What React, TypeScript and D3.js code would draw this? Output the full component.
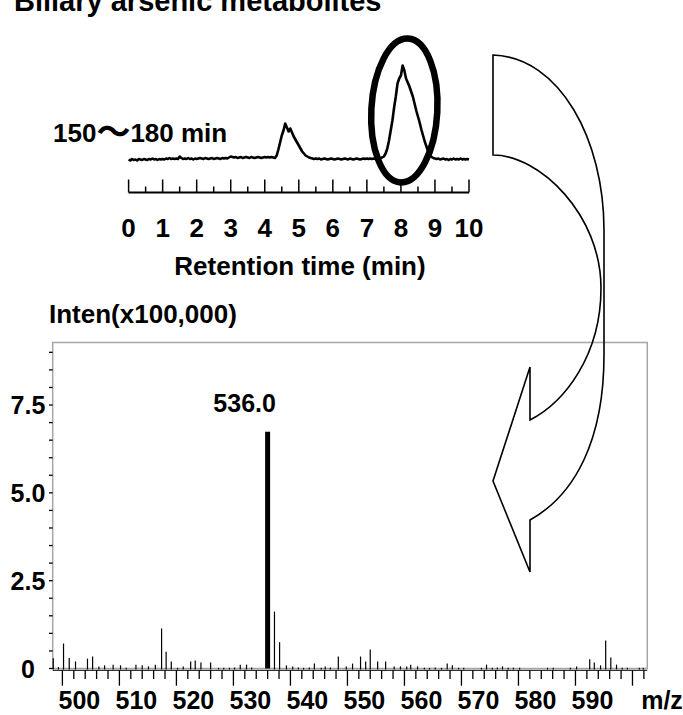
import React from 'react';
import * as d3 from 'd3';

// ---------- DATA ----------
const titleText = 'Biliary arsenic metabolites';
const chromRangeStart = '150';
const chromRangeSep = '～';
const chromRangeEnd = '180 min';
const chromAxisTitle = 'Retention time (min)';
const chromStep = 0.05; // minutes between samples
const chromIntensity = [
  1, 0, 1.5, 0.5, 1, 0, 1.5, 1, 0.5, 1.5, 1, 0.5, 1.5, 1, 2, 1, 1.5, 0.5, 1.5, 1, 1.5,
  1, 2, 1.5, 2.5, 1.5, 2, 1.5, 2, 1.5, 4, 2.5, 1.5, 2, 1.5, 2.5, 1.5, 2, 1, 2, 1.5,
  2, 2.5, 2, 1.5, 2.5, 2, 1.5, 2, 2.5, 1.5, 2, 2.5, 2, 1.5, 2.5, 2, 2.5, 2, 3, 4,
  3.5, 3, 3.5, 2.5, 3, 3.5, 2.5, 3, 3.5, 3, 2.5, 3.5, 3, 2.5, 3, 3.5, 3, 2.5, 3, 3.5,
  3, 3.5, 3, 3.5, 3, 2.5, 5, 11, 18, 25, 30, 37, 33, 29, 32, 28, 24, 21, 18, 15,
  12, 9, 7, 5, 4, 3, 2.5, 2, 1.5, 2, 1.5, 2, 1, 1.5, 2, 1.5, 1, 1.5, 2, 1.5,
  1, 1.5, 2, 1.5, 1, 1.5, 2, 1.5, 1, 2, 1.5, 1, 1.5, 2, 1.5, 1, 1.5, 2, 1.5, 2,
  1.5, 2, 1.5, 2, 1.5, 2.5, 2, 2.5, 3, 4, 7, 12, 20, 30, 40, 53, 64, 77, 82, 85,
  95, 90, 82, 78, 74, 69, 64, 57, 50, 44, 38, 31, 25, 19, 14, 9, 6, 3.5, 2.5, 2,
  1.5, 2, 1, 1.5, 2, 1, 1.5, 0.5, 1.5, 1, 2, 1, 1.5, 1, 2, 1, 1.5, 1, 1.5, 1,
];
const chromTicks = [0, 1, 2, 3, 4, 5, 6, 7, 8, 9, 10];

const specYLabel = 'Inten(x100,000)';
const specXUnit = 'm/z';
const basePeakLabel = '536.0';
const specMz = [
  498.4, 499.3, 500.2, 501.2, 502.3, 504.4, 505.3, 506.4, 507.4, 508.9,
  510.2, 511.2, 512.9, 514.0, 515.1, 516.3, 517.4, 518.2, 519.1, 520.2,
  521.2, 522.5, 523.3, 524.3, 526.0, 527.4, 528.3, 529.3, 530.2, 531.2,
  532.3, 533.2, 536.0, 537.2, 538.1, 539.3, 540.4, 541.4, 542.3, 543.3,
  544.2, 545.4, 546.1, 547.0, 548.4, 549.8, 550.9, 552.3, 553.2, 554.0,
  555.3, 556.7, 558.2, 559.3, 560.4, 561.1, 562.3, 563.5, 564.4, 565.4,
  566.5, 567.5, 568.4, 569.5, 570.4, 573.5, 574.4, 575.4, 576.3, 577.2,
  578.2, 579.1, 580.2, 585.1, 586.1, 589.1, 590.2, 592.5, 593.3, 594.4,
  595.3, 596.2, 597.2, 598.2, 599.1, 601.2, 601.9,
];
const specIntensity = [
  0.29, 0.04, 0.71, 0.30, 0.20, 0.28, 0.34, 0.06, 0.09, 0.11,
  0.09, 0.02, 0.11, 0.09, 0.06, 0.11, 1.14, 0.48, 0.20, 0.02,
  0.06, 0.20, 0.23, 0.17, 0.17, 0.02, 0.02, 0.02, 0.03, 0.11,
  0.11, 0.03, 6.74, 1.62, 0.75, 0.09, 0.06, 0.03, 0.02, 0.03,
  0.14, 0.02, 0.06, 0.03, 0.34, 0.06, 0.14, 0.34, 0.20, 0.54,
  0.20, 0.20, 0.06, 0.06, 0.06, 0.11, 0.06, 0.02, 0.02, 0.03,
  0.02, 0.14, 0.09, 0.02, 0.02, 0.02, 0.11, 0.02, 0.03, 0.06,
  0.02, 0.02, 0.02, 0.02, 0.02, 0.02, 0.06, 0.26, 0.17, 0.09,
  0.80, 0.31, 0.11, 0.02, 0.02, 0.02, 0.02,
];
const specXLabels = [500, 510, 520, 530, 540, 550, 560, 570, 580, 590];
const specYLabels = ['0', '2.5', '5.0', '7.5'];

// ---------- LAYOUT ----------
const W = 683;
const H = 715;
const FONT = '"Liberation Sans", Arial, Helvetica, sans-serif';

export default function App() {
  // chromatogram scales
  const cx = d3.scaleLinear().domain([0, 10]).range([128.6, 469]);
  const cy = d3.scaleLinear().domain([0, 100]).range([160.5, 60.5]);
  const chromLine = d3
    .line<number>()
    .x((_, i) => cx(i * chromStep))
    .y((d) => cy(d));
  const chromMinor = d3.range(0, 10.001, 0.5);
  const chromAxisY = 192.5;

  // spectrum scales
  const sx = d3.scaleLinear().domain([498.3, 602.6]).range([52.7, 647.3]);
  const sy = d3.scaleLinear().domain([0, 9.28]).range([668.5, 342.5]);
  const sxTicks = d3.range(500, 603, 2);
  const syTicks = d3.range(0, 9.001, 0.5);
  const baseIdx = specIntensity.indexOf(d3.max(specIntensity) as number);

  const arrowPath =
    'M493,55 C560,57 604,140 604,230 L604,355 C604,440 575,495 530,520 ' +
    'L530,572 L493,481 L530,367 L530,420 C565,402 601,355 601,288 ' +
    'C601,215 540,155 493,155 Z';

  const textStyle = { fontFamily: FONT, fontWeight: 700 as const, fill: '#000' };

  return (
    <svg
      width={W}
      height={H}
      viewBox={`0 0 ${W} ${H}`}
      style={{ position: 'absolute', left: 0, top: 0, background: '#fff' }}
    >
      <rect x={0} y={0} width={W} height={H} fill="#fff" />
      {/* title (cut off at top, as in the source) */}
      <text x={14} y={11} fontSize={29} {...textStyle}>
        {titleText}
      </text>

      {/* ---- chromatogram ---- */}
      <text x={53} y={141.5} fontSize={26} {...textStyle}>
        {chromRangeStart}
        <tspan fontFamily='"Noto Sans CJK JP", sans-serif' fontSize={34} dy={2}>
          {chromRangeSep}
        </tspan>
        <tspan dy={-2}>{chromRangeEnd}</tspan>
      </text>
      <path
        d={chromLine(chromIntensity) || ''}
        fill="none"
        stroke="#000"
        strokeWidth={2.6}
        strokeLinejoin="round"
      />
      <line x1={cx(0)} x2={cx(10)} y1={chromAxisY} y2={chromAxisY} stroke="#000" strokeWidth={2} />
      {chromMinor.map((t) => {
        const major = Math.abs(t - Math.round(t)) < 1e-6;
        return (
          <line
            key={t}
            x1={cx(t)}
            x2={cx(t)}
            y1={chromAxisY}
            y2={chromAxisY - (major ? 13 : 6)}
            stroke="#000"
            strokeWidth={1.5}
          />
        );
      })}
      {chromTicks.map((t) => (
        <text key={t} x={cx(t)} y={236.5} fontSize={26} textAnchor="middle" {...textStyle}>
          {t}
        </text>
      ))}
      <text x={300} y={275} fontSize={26} textAnchor="middle" {...textStyle}>
        {chromAxisTitle}
      </text>

      {/* highlight ellipse */}
      <ellipse
        cx={cx(8.1)}
        cy={cy(50)}
        rx={33}
        ry={72}
        fill="none"
        stroke="#000"
        strokeWidth={6.5}
        transform={`rotate(3 ${cx(8.1)} ${cy(50)})`}
      />

      {/* ---- mass spectrum ---- */}
      <text x={49} y={323} fontSize={26} {...textStyle}>
        {specYLabel}
      </text>
      <rect
        x={sx.range()[0]}
        y={sy.range()[1]}
        width={sx.range()[1] - sx.range()[0]}
        height={sy.range()[0] - sy.range()[1]}
        fill="none"
        stroke="#a6a6a6"
        strokeWidth={1.5}
      />
      <line x1={sx.range()[0]} x2={sx.range()[1]} y1={670.3} y2={670.3} stroke="#000" strokeWidth={1} />
      {syTicks.map((v) => (
        <line key={v} x1={49} x2={sx.range()[0]} y1={sy(v)} y2={sy(v)} stroke="#000" strokeWidth={1.3} />
      ))}
      {specYLabels.map((l) => (
        <text key={l} x={28} y={sy(+l) + 9} fontSize={25} textAnchor="middle" {...textStyle}>
          {l}
        </text>
      ))}
      {sxTicks.map((v) => (
        <line
          key={v}
          x1={sx(v)}
          x2={sx(v)}
          y1={670.3}
          y2={v % 10 === 0 ? 685.7 : 679}
          stroke="#000"
          strokeWidth={1.3}
        />
      ))}
      {specMz.map((m, i) =>
        i === baseIdx ? (
          <rect
            key={m}
            x={sx(m) - 2.5}
            width={5}
            y={sy(specIntensity[i])}
            height={sy(0) - sy(specIntensity[i])}
            fill="#000"
          />
        ) : (
          <line
            key={m}
            x1={sx(m)}
            x2={sx(m)}
            y1={sy(0) + 1}
            y2={sy(specIntensity[i])}
            stroke="#000"
            strokeWidth={1.2}
          />
        )
      )}
      <text x={sx(specMz[baseIdx]) - 23} y={412} fontSize={25} textAnchor="middle" {...textStyle}>
        {basePeakLabel}
      </text>
      {specXLabels.map((v) => (
        <text key={v} x={sx(v) + 17} y={709} fontSize={25} textAnchor="middle" {...textStyle}>
          {v}
        </text>
      ))}
      <text x={662} y={709} fontSize={25} textAnchor="middle" {...textStyle}>
        {specXUnit}
      </text>

      {/* curved arrow */}
      <path d={arrowPath} fill="none" stroke="#000" strokeWidth={1.6} strokeLinejoin="miter" />
    </svg>
  );
}
